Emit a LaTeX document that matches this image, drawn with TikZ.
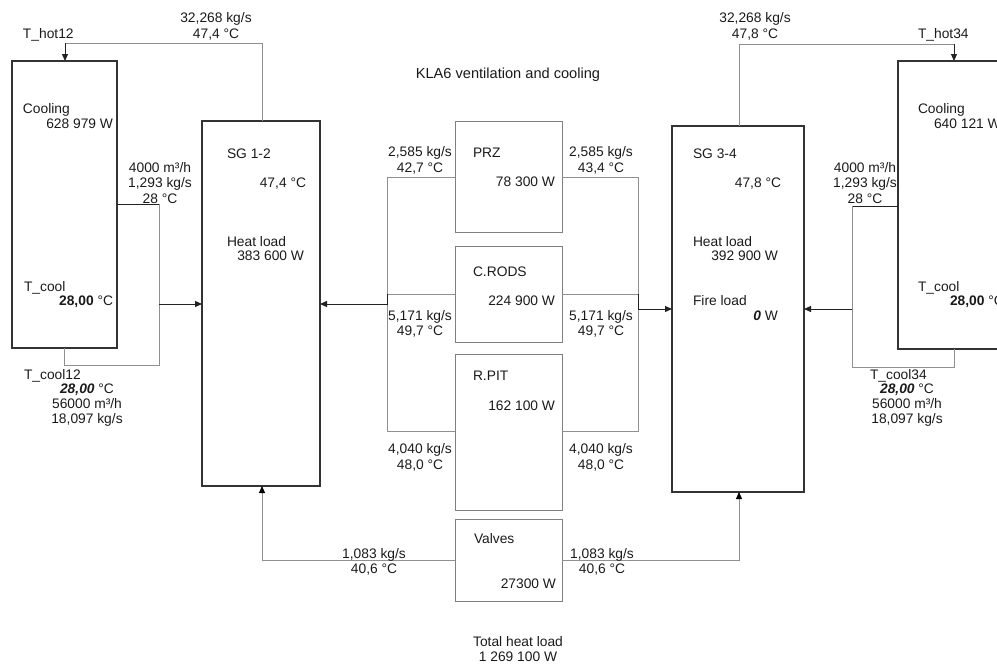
\documentclass[tikz,border=0pt]{standalone}
\usepackage{fontspec}
\setmainfont{Liberation Sans}
\usetikzlibrary{arrows.meta}
\definecolor{boxc}{HTML}{333333}
\definecolor{linec}{HTML}{909090}
\definecolor{midc}{HTML}{808080}
\definecolor{flowc}{HTML}{222222}
\definecolor{txt}{HTML}{1A1A1A}
\begin{document}
\begin{tikzpicture}[x=1pt,y=-1pt,
  every node/.style={font=\fontsize{13.8}{15.3}\selectfont, text=txt, inner sep=0pt, outer sep=0pt},
  bigbox/.style={draw=boxc, line width=1.4pt, anchor=north west},
  midbox/.style={draw=midc, line width=0.9pt, anchor=north west},
  conn/.style={draw=linec, line width=0.9pt},
  flow/.style={draw=flowc, line width=1pt, -{Triangle[length=7pt,width=6pt]}},
  gflow/.style={draw=linec, line width=0.9pt, -{Triangle[length=7pt,width=6pt,color=black]}},
  lab/.style={align=center},
  lw/.style={anchor=base west},
  le/.style={anchor=base east}]
\useasboundingbox (0,0) rectangle (997,664);

% boxes
\node[bigbox, minimum width=105pt, minimum height=287pt] (cool12) at (12,61) {};
\node[bigbox, minimum width=118pt, minimum height=365pt] (sg12) at (202,121) {};
\node[midbox, minimum width=107pt, minimum height=111pt] (prz) at (455,121) {};
\node[midbox, minimum width=107pt, minimum height=96pt] (crods) at (455,246) {};
\node[midbox, minimum width=107pt, minimum height=156pt] (rpit) at (455,354) {};
\node[midbox, minimum width=107pt, minimum height=82pt] (valves) at (455,519) {};
\node[bigbox, minimum width=132pt, minimum height=366pt] (sg34) at (672,126) {};
\node[bigbox, minimum width=130pt, minimum height=288pt] (cool34) at (898,61) {};

% junction coordinates
\coordinate (tl) at (65,43);
\coordinate (tr) at (262,43);
\coordinate (trl) at (739,44);
\coordinate (trr) at (954,44);
\coordinate (lc1) at (159,204);
\coordinate (lc2) at (159,304);
\coordinate (lc3) at (159,365);
\coordinate (lc4) at (64,365);
\coordinate (rc1) at (852,206);
\coordinate (rc2) at (852,309);
\coordinate (rc3) at (852,367);
\coordinate (rc4) at (954,367);
\coordinate (lb1) at (387,177);
\coordinate (lb2) at (387,294);
\coordinate (lb3) at (387,304);
\coordinate (lb4) at (387,431);
\coordinate (rb1) at (638,177);
\coordinate (rb2) at (638,294);
\coordinate (rb3) at (638,309);
\coordinate (rb4) at (638,431);
\coordinate (bl) at (262,560);
\coordinate (br) at (739,560);

% top loops
\draw[conn] (tr |- sg12.north) -- (tr) -- (tl);
\draw[flow] (tl) -- (tl |- cool12.north);
\draw[conn] (trl |- sg34.north) -- (trl) -- (trr);
\draw[flow] (trr) -- (trr |- cool34.north);

% left cooling loop
\draw[draw=flowc, line width=1pt] (cool12.east |- lc1) -- (lc1);
\draw[conn] (lc1) -- (lc3) -- (lc4) -- (lc4 |- cool12.south);
\draw[flow] (lc2) -- (sg12.west |- lc2);

% right cooling loop
\draw[draw=flowc, line width=1pt] (cool34.west |- rc1) -- (rc1);
\draw[conn] (rc1) -- (rc3) -- (rc4) -- (rc4 |- cool34.south);
\draw[flow] (rc2) -- (sg34.east |- rc2);

% central buses
\draw[conn] (prz.west |- lb1) -- (lb1) -- (lb4) -- (rpit.west |- lb4);
\draw[conn] (crods.west |- lb2) -- (lb2);
\draw[flow] (lb2) -- (lb3) -- (sg12.east |- lb3);
\draw[conn] (prz.east |- rb1) -- (rb1) -- (rb4) -- (rpit.east |- rb4);
\draw[conn] (crods.east |- rb2) -- (rb2);
\draw[flow] (rb2) -- (rb3) -- (sg34.west |- rb3);

% valves
\draw[gflow] (valves.west |- bl) -- (bl) -- (bl |- sg12.south);
\draw[gflow] (valves.east |- br) -- (br) -- (br |- sg34.south);

% title
\node[font=\fontsize{14.6}{17}\selectfont, anchor=base] (title) at (508,78) {KLA6 ventilation and cooling};

% left side texts
\node[lw] (thot12) at (23,38) {T\_hot12};
\node[lab] (f12) at (216,26.5) {32,268 kg/s\\47,4 °C};
\node[lw] (coolL) at (23,113) {Cooling};
\node[le] (coolLw) at (113,128) {628 979 W};
\node[lab] (airL) at (160,183) {4000 m³/h\\1,293 kg/s\\28 °C};
\node[lw] (tcoolL) at (24,291) {T\_cool};
\node[le] (tcoolLv) at (113,305) {\textbf{28,00} °C};
\node[lw] (tc12) at (24,379) {T\_cool12};
\node[lab] (tc12v) at (87,405) {\textbf{\textit{28,00}} °C\\56000 m³/h\\18,097 kg/s};

% SG 1-2 texts
\node[lw] (sg12t) at (227,158) {SG 1-2};
\node[le] (sg12T) at (306,187) {47,4 °C};
\node[lw] (sg12h) at (227,246) {Heat load};
\node[le] (sg12hv) at (304,260) {383 600 W};

% central texts
\node[lw] (przt) at (473,157) {PRZ};
\node[le] (przv) at (555,186) {78 300 W};
\node[lw] (crodst) at (473,276) {C.RODS};
\node[le] (crodsv) at (555,305) {224 900 W};
\node[lw] (rpitt) at (473,380) {R.PIT};
\node[le] (rpitv) at (555,410) {162 100 W};
\node[lw] (valt) at (474,543) {Valves};
\node[le] (valv) at (556,588) {27300 W};

\node[lab] (f1) at (420,160.5) {2,585 kg/s\\42,7 °C};
\node[lab] (f2) at (601,160.5) {2,585 kg/s\\43,4 °C};
\node[lab] (f3) at (420,324) {5,171 kg/s\\49,7 °C};
\node[lab] (f4) at (601,324) {5,171 kg/s\\49,7 °C};
\node[lab] (f5) at (420,457.5) {4,040 kg/s\\48,0 °C};
\node[lab] (f6) at (601,457.5) {4,040 kg/s\\48,0 °C};
\node[lab] (f7) at (374,562) {1,083 kg/s\\40,6 °C};
\node[lab] (f8) at (602,562) {1,083 kg/s\\40,6 °C};
\node[lab] (total) at (518,649) {Total heat load\\1 269 100 W};

% SG 3-4 texts
\node[lw] (sg34t) at (693,158) {SG 3-4};
\node[le] (sg34T) at (781,187) {47,8 °C};
\node[lw] (sg34h) at (693,246) {Heat load};
\node[le] (sg34hv) at (778,260) {392 900 W};
\node[lw] (sg34f) at (693,305) {Fire load};
\node[le] (sg34fv) at (778,320) {\textbf{\textit{0}} W};

% right side texts
\node[lab] (f34) at (755,26.5) {32,268 kg/s\\47,8 °C};
\node[lw] (thot34) at (918,38) {T\_hot34};
\node[lw] (coolR) at (918,113) {Cooling};
\node[lw] (coolRw) at (934,128) {640 121 W};
\node[lab] (airR) at (865,183) {4000 m³/h\\1,293 kg/s\\28 °C};
\node[lw] (tcoolR) at (918,291) {T\_cool};
\node[lw] (tcoolRv) at (950,305) {\textbf{28,00} °C};
\node[lw] (tc34) at (870,379) {T\_cool34};
\node[lab] (tc34v) at (907,405) {\textbf{\textit{28,00}} °C\\56000 m³/h\\18,097 kg/s};
\end{tikzpicture}
\end{document}
